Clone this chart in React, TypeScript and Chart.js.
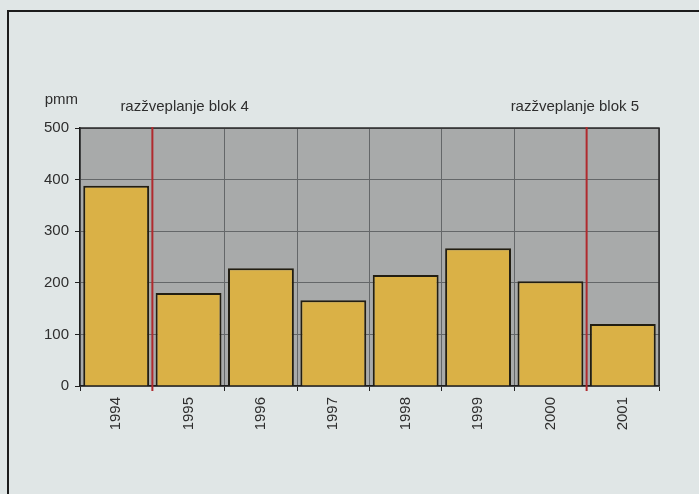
import React, { useEffect, useRef } from "react";
import { Chart, registerables } from "chart.js";

Chart.register(...registerables);

const years = ["1994", "1995", "1996", "1997", "1998", "1999", "2000", "2001"];
const values = [388, 180, 228, 166, 215, 267, 203, 120];
const yMin = 0;
const yMax = 500;
const yStep = 100;
const unitLabel = "pmm";
const markerAfterIndex = [0, 6];
const markerLabels = ["razžveplanje blok 4", "razžveplanje blok 5"];

const FONT = '"Liberation Sans", Arial, Helvetica, sans-serif';

const decorPlugin = {
  id: "decor",
  beforeDraw(chart: any) {
    const { ctx, chartArea: a } = chart;
    ctx.save();
    ctx.fillStyle = "#a8aaaa";
    ctx.fillRect(a.left, a.top, a.right - a.left, a.bottom - a.top);
    ctx.restore();
  },
  afterDraw(chart: any) {
    const { ctx, chartArea: a, scales } = chart;
    const x = scales.x;
    ctx.save();
    ctx.strokeStyle = "#2a2a2a";
    ctx.lineWidth = 1.5;
    ctx.beginPath();
    ctx.moveTo(a.left, a.top);
    ctx.lineTo(a.right, a.top);
    ctx.lineTo(a.right, a.bottom);
    ctx.stroke();
    const dx = [-32, -76];
    markerAfterIndex.forEach((idx, k) => {
      const px = (x.getPixelForValue(idx) + x.getPixelForValue(idx + 1)) / 2;
      ctx.strokeStyle = "#b02a2e";
      ctx.lineWidth = 2;
      ctx.beginPath();
      ctx.moveTo(px, a.top - 1);
      ctx.lineTo(px, a.bottom + 5);
      ctx.stroke();
      ctx.fillStyle = "#2e2e2e";
      ctx.font = "15px " + FONT;
      ctx.textAlign = "left";
      ctx.textBaseline = "alphabetic";
      ctx.fillText(markerLabels[k], px + dx[k], a.top - 17);
    });
    ctx.fillStyle = "#2e2e2e";
    ctx.font = "15px " + FONT;
    ctx.textAlign = "right";
    ctx.textBaseline = "alphabetic";
    ctx.fillText(unitLabel, a.left - 2, a.top - 24);
    ctx.restore();
  },
};

export default function App() {
  const ref = useRef<HTMLCanvasElement | null>(null);

  useEffect(() => {
    if (!ref.current) return;
    const chart = new Chart(ref.current, {
      type: "bar",
      data: {
        labels: years,
        datasets: [
          {
            data: values,
            backgroundColor: "#dab146",
            borderColor: "#221e12",
            borderWidth: 2,
            barPercentage: 0.91,
            categoryPercentage: 1,
          },
        ],
      },
      options: {
        animation: false,
        responsive: false,
        devicePixelRatio: 1,
        layout: { padding: { left: 0, right: 40, top: 128, bottom: 0 } },
        plugins: {
          legend: { display: false },
          tooltip: { enabled: false },
          title: { display: false },
        },
        scales: {
          x: {
            offset: true,
            afterFit: (s: any) => {
              s.height = 108;
            },
            grid: {
              offset: true,
              color: "#646769",
              lineWidth: 1,
              tickLength: 5,
              tickColor: "#222222",
            },
            border: { display: true, color: "#1e1e1e", width: 1.5 },
            ticks: {
              minRotation: 90,
              maxRotation: 90,
              padding: 6,
              color: "#2e2e2e",
              font: { family: FONT, size: 15 },
            },
          },
          y: {
            min: yMin,
            max: yMax,
            afterFit: (s: any) => {
              s.width = 80;
            },
            grid: {
              color: "#646769",
              lineWidth: 1,
              tickLength: 5,
              tickColor: "#222222",
            },
            border: { display: true, color: "#1e1e1e", width: 1.5 },
            ticks: {
              stepSize: yStep,
              padding: 6,
              color: "#2e2e2e",
              font: { family: FONT, size: 15 },
            },
          },
        },
      },
      plugins: [decorPlugin],
    });
    return () => chart.destroy();
  }, []);

  return (
    <div
      style={{
        position: "fixed",
        left: 0,
        top: 0,
        width: 699,
        height: 494,
        background: "#e0e6e6",
        overflow: "hidden",
      }}
    >
      <div
        style={{
          position: "absolute",
          left: 7,
          top: 10,
          width: 720,
          height: 520,
          borderLeft: "2px solid #1c1c1c",
          borderTop: "2px solid #1c1c1c",
        }}
      />
      <canvas
        ref={ref}
        width={699}
        height={494}
        style={{ position: "absolute", left: 0, top: 0 }}
      />
    </div>
  );
}
